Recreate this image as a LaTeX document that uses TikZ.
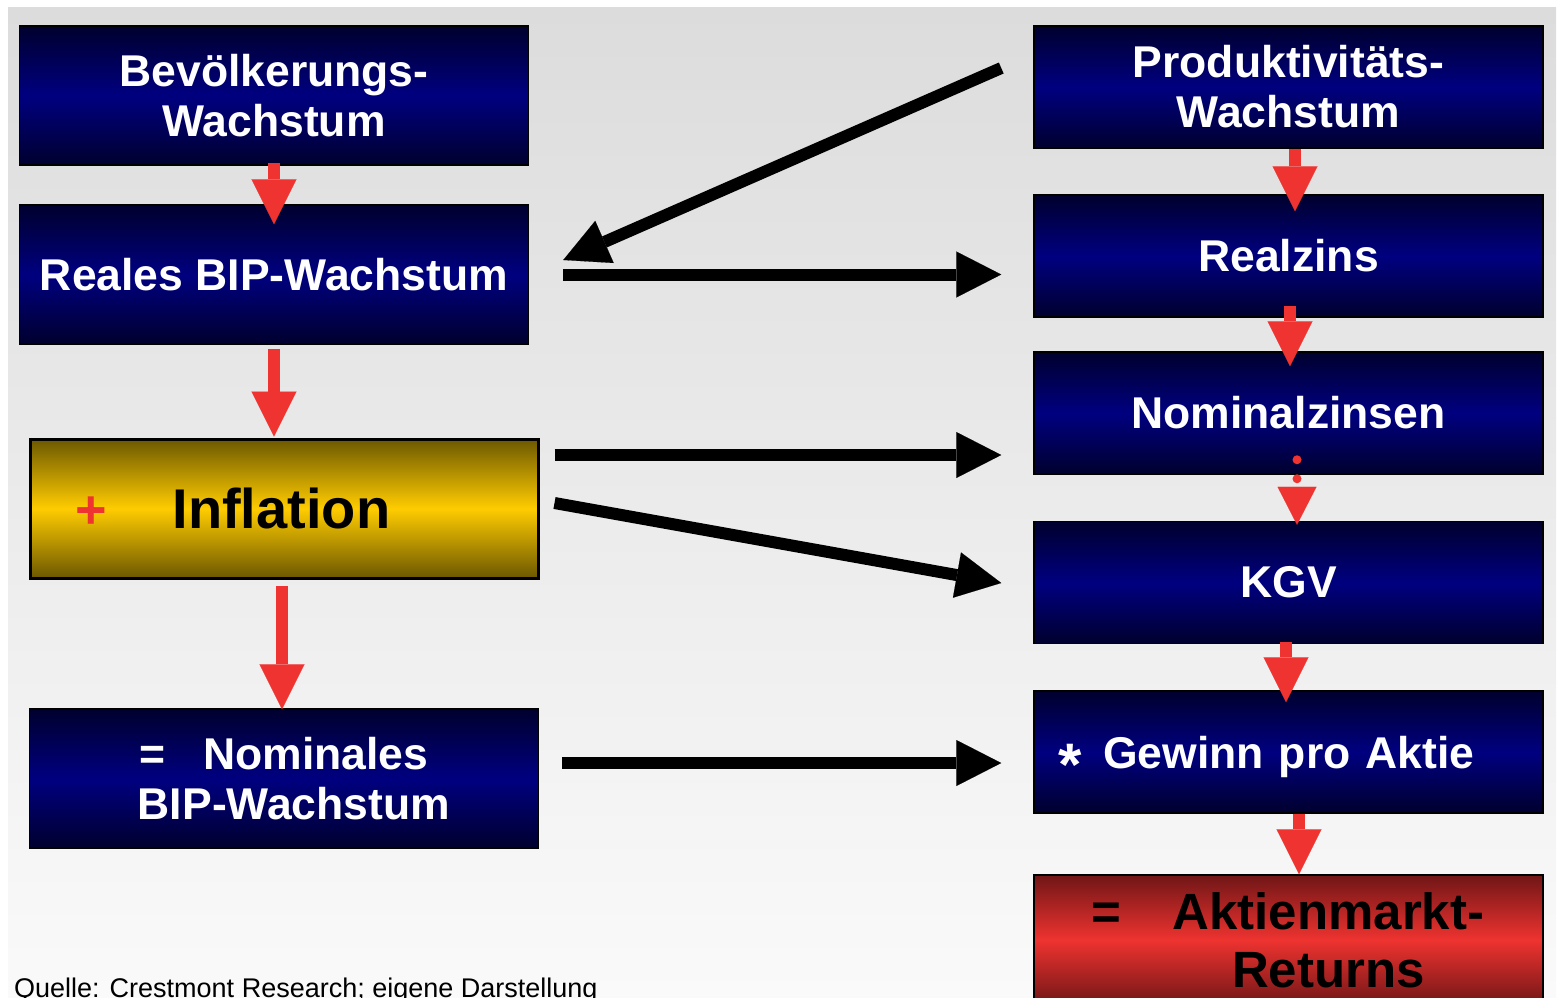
\documentclass[tikz,border=0pt]{standalone}
\usepackage{fontspec}
\setmainfont{Liberation Sans}
\usepackage{tikz}
\usetikzlibrary{arrows.meta,calc}
\definecolor{navytop}{RGB}{0,0,46}
\definecolor{navymid}{RGB}{0,0,128}
\definecolor{goldtop}{RGB}{108,88,0}
\definecolor{goldmid}{RGB}{255,204,0}
\definecolor{redtop}{RGB}{112,22,22}
\definecolor{redmid}{RGB}{238,51,48}
\definecolor{arrred}{RGB}{238,51,48}
\definecolor{bgtop}{RGB}{220,220,220}
\definecolor{bgbot}{RGB}{250,250,250}
\def\FS#1#2{\bfseries\fontsize{#1}{#2}\selectfont}

\begin{document}
\begin{tikzpicture}[x=1pt,y=-1pt,
  bluebox/.style={draw=black,line width=1.5pt,top color=navytop,bottom color=navytop,middle color=navymid,
    text=white,font=\FS{44.5}{50},minimum width=509pt,minimum height=122pt,inner sep=0pt},
  goldbox/.style={draw=black,line width=3pt,top color=goldtop,bottom color=goldtop,middle color=goldmid,
    text=black,font=\FS{56}{60},minimum width=508pt,minimum height=139pt,inner sep=0pt},
  redbox/.style={draw=black,line width=1.5pt,top color=redtop,bottom color=redtop,middle color=redmid,
    text=black,font=\FS{51}{58},minimum width=509pt,minimum height=130pt,inner sep=0pt},
  redarrow/.style={draw=arrred,line width=12pt,-{Triangle[length=45pt,width=45pt,line width=0.1pt]}},
  blackarrow/.style={draw=black,line width=12pt,-{Triangle[length=45pt,width=46pt,line width=0.1pt]}}]
\useasboundingbox (0,0) rectangle (1562,997);
\shade[top color=bgtop,bottom color=bgbot] (8,7) rectangle (1556,997);

% left column
\node[bluebox,minimum height=139pt,align=center] (bev) at (274,95.5) {Bevölkerungs-\\Wachstum};
\node[bluebox,minimum height=139pt] (reales) at (274,274.5) {Reales BIP-Wachstum};
\node[goldbox,text width=418pt,align=left] (infl) at (284,508.5) {{\color{arrred}\fontsize{54}{60}\selectfont+}\hspace{66pt}Inflation};
\node[bluebox,minimum height=139pt,align=center] (nombip) at (284,778.5) {=\hspace{38pt}Nominales\\\hspace*{20pt}BIP-Wachstum};

% right column
\node[bluebox,align=center] (prod) at (1288.5,87) {Produktivitäts-\\Wachstum};
\node[bluebox] (realzins) at (1288.5,256) {Realzins};
\node[bluebox] (nomz) at (1288.5,413) {Nominalzinsen};
\node[bluebox] (kgv) at (1288.5,582.5) {KGV};
\node[bluebox,text width=461pt,align=left,text depth=0pt] (gewinn) at (1288.5,752)
  {\raisebox{-17pt}{\fontsize{60}{60}\selectfont *}\hspace{22pt}Gewinn pro Aktie};
\node[redbox,align=center] (aktien) at (1288.5,940)
  {\hspace*{80pt}\llap{=\hspace{51pt}}Aktienmarkt-\\\hspace*{80pt}Returns};

\node[anchor=base west,font=\fontsize{27}{30}\selectfont,inner sep=0pt] (quelle) at (14,997)
  {Quelle: Crestmont Research; eigene Darstellung};

% red arrows
\draw[redarrow] ($(bev.south)+(0,-3)$) -- ($(reales.north)+(0,20)$);
\draw[redarrow] ($(reales.south)+(0,4)$) -- ($(reales.south |- infl.north)+(0,-1)$);
\draw[redarrow] ($(infl.south)+(-2,6)$) -- ($(nombip.north)+(-2,1)$);
\draw[redarrow] ($(prod.south)+(6.5,0)$) -- ($(realzins.north)+(6.5,17)$);
\draw[redarrow] ($(realzins.south)+(1.5,-12)$) -- ($(nomz.north)+(1.5,15)$);
\draw[draw=arrred,line width=9pt,line cap=round,dash pattern=on 0pt off 19pt,
  -{Triangle[length=38pt,width=39pt,line width=0.1pt]}] ($(nomz.south)+(8.5,-15)$) -- ($(kgv.north)+(8.5,4)$);
\draw[redarrow] ($(kgv.south)+(-2.5,-2)$) -- ($(gewinn.north)+(-2.5,12)$);
\draw[redarrow] ($(gewinn.south)+(10.5,0)$) -- ($(aktien.north)+(10.5,0)$);

% black arrows
\draw[blackarrow] ($(prod.west)+(-32,-19)$) -- ($(reales.east)+(34,-14.5)$);
\draw[blackarrow] ($(reales.east)+(34,0)$) -- ($(reales.east -| realzins.west)+(-32,0)$);
\draw[blackarrow] ($(infl.east)+(15,-53.5)$) -- ($(infl.east -| nomz.west)+(-32,-53.5)$);
\draw[blackarrow] ($(infl.east)+(15,-5.5)$) -- ($(kgv.west)+(-32,0.5)$);
\draw[blackarrow] ($(nombip.east)+(23,-15.5)$) -- ($(nombip.east -| gewinn.west)+(-32,-15.5)$);
\end{tikzpicture}
\end{document}
